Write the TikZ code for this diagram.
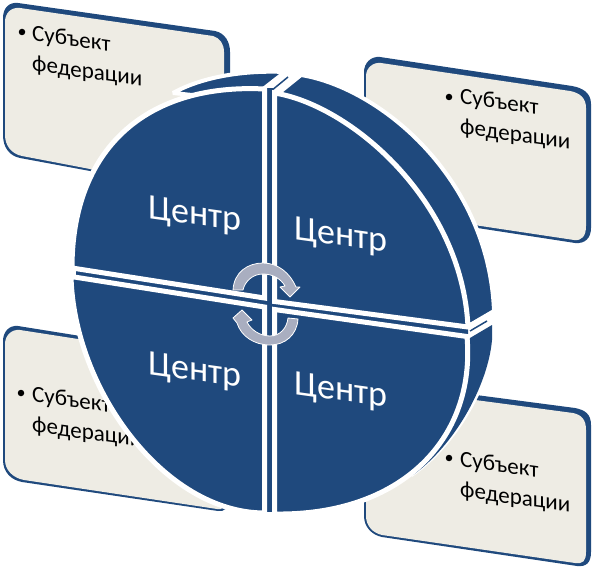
\documentclass[tikz,border=0pt]{standalone}
\usepackage{fontspec}
\setmainfont{Carlito}
\definecolor{navy}{HTML}{1F497D}
\definecolor{beige}{HTML}{EEECE4}
\definecolor{arrowgrey}{HTML}{A9AEC0}
\tikzset{
  x=1pt,y=-1pt,
  panel/.style={fill=beige},
  edgeband/.style={fill=navy},
  sector/.style={fill=navy,draw=white,line width=5pt,line join=miter,miter limit=2},
  wedgepart/.style={fill=navy,draw=white,line width=4pt,line join=miter,miter limit=2},
  sliver/.style={draw=navy,line width=1.5pt},
  centre/.style={text=white,font=\fontsize{36}{42}\selectfont,inner sep=0pt,yslant=-.14,transform shape},
  subj/.style={text=black,font=\fontsize{23}{30}\selectfont,inner sep=0pt,align=left,anchor=north west,yslant=-.135,transform shape},
  dot/.style={circle,fill=black,inner sep=0pt,minimum size=6.5pt},
  turn/.style={fill=arrowgrey,draw=white,line width=.8pt,line join=round}
}
\begin{document}
\begin{tikzpicture}
\useasboundingbox (0,0) rectangle (594,569);
% panel TL
\fill[edgeband] (18,3) -- (215,31) .. controls (225,33) and (230,42) .. (230,52) -- (230,210) -- (90,171) -- (20,158) .. controls (10,156) and (3,148) .. (3,135) -- (3,18) .. controls (3,8) and (9,2) .. (18,3) -- cycle;
\fill[panel] (20,8) -- (213,36) .. controls (220,38) and (224,44) .. (224,52) -- (224,210) -- (90,169) -- (22,156) .. controls (12,154) and (5,146) .. (5,135) -- (5,22) .. controls (5,13) and (11,7) .. (20,8) -- cycle;
% panel TR
\fill[edgeband] (380,57) -- (572,86) .. controls (583,88) and (591,93) .. (591,104) -- (591,228) .. controls (591,238) and (585,244) .. (575,243) -- (380,213) .. controls (372,211) and (364,203) .. (364,193) -- (364,72) .. controls (364,63) and (371,56) .. (380,57) -- cycle;
\fill[panel] (381,63) -- (570,91) .. controls (580,93) and (586,98) .. (586,108) -- (586,226) .. controls (586,236) and (582,241) .. (574,240) -- (381,211) .. controls (373,209) and (366,202) .. (366,193) -- (366,76) .. controls (366,68) and (373,62) .. (381,63) -- cycle;
% panel BL
\fill[edgeband] (18,326) -- (230,360) -- (229,500) .. controls (229,508) and (224,512) .. (218,511) -- (22,482) .. controls (11,480) and (3,472) .. (3,460) -- (3,341) .. controls (3,332) and (9,325) .. (18,326) -- cycle;
\fill[panel] (20,330) -- (226,362) -- (226,500) .. controls (226,507) and (222,510) .. (217,509) -- (24,480) .. controls (13,478) and (5,470) .. (5,460) -- (5,344) .. controls (5,336) and (11,329) .. (20,330) -- cycle;
% panel BR
\fill[edgeband] (400,385) -- (575,408) .. controls (585,410) and (591,414) .. (591,425) -- (591,552) .. controls (591,563) and (586,567) .. (577,566) -- (382,537) .. controls (372,535) and (364,527) .. (364,516) -- (364,480) -- cycle;
\fill[panel] (400,390) -- (573,413) .. controls (582,415) and (586,420) .. (586,430) -- (586,552) .. controls (586,561) and (583,564) .. (575,563) -- (382,535) .. controls (373,533) and (366,526) .. (366,516) -- (366,480) -- cycle;
% panel texts
\node[dot] (d1) at (22,32) {};
\node[subj] (s1) at (32,25) {Субъект\\федерации};
\node[dot] (d2) at (449,97) {};
\node[subj] (s2) at (460,88) {Субъект\\федерации};
\node[dot] (d3) at (21,393) {};
\node[subj] (s3) at (32,386) {Субъект\\федерации};
\node[dot] (d4) at (449,458) {};
\node[subj] (s4) at (460,451) {Субъект\\федерации};
% extrusion
\path[wedgepart] (173,93) .. controls (200,78) and (240,70) .. (285,72) -- (262,90) -- (240,100) -- cycle;
\path[wedgepart] (301,75) .. controls (381,88) and (489,179) .. (494,311) -- (470,325) -- (300,120) -- (275,96) -- cycle;
\fill[white] (467,340) -- (494,323) -- (494,345) .. controls (490,387) and (456,447) .. (412,477) -- cycle;
\fill[navy] (470,338) -- (492,325) -- (492,340) .. controls (488,385) and (455,445) .. (413,475) -- cycle;
\draw[sliver] (271,91) -- (288,77);
\draw[sliver] (470,331) -- (487,321);
\fill[navy] (262,290) -- (468,320) -- (468,338) -- (262,312) -- cycle;
\fill[navy] (76,268) -- (262,296) -- (262,312) -- (76,280) -- cycle;
\fill[navy] (266,88) rectangle (273,512);
% sectors
\node[coordinate] (tlc) at (264.5,298) {};
\node[coordinate] (trc) at (274.5,301.5) {};
\node[coordinate] (blc) at (264.5,307) {};
\node[coordinate] (brc) at (274.5,309.5) {};
\path[sector] (tlc) -- (72,268) .. controls (72,150) and (145,83) .. (264.5,89) -- cycle;
\path[sector] (trc) -- (274.5,93) .. controls (350,105) and (462,200) .. (468,327) -- cycle;
\path[sector] (blc) -- (71,276.5) .. controls (74,390) and (165,513) .. (264.5,513) -- cycle;
\path[sector] (brc) -- (467,336.5) .. controls (476,440) and (400,516) .. (274.5,514) -- cycle;
% circular arrows
\path[turn] (233,290) .. controls (234,272) and (248,263) .. (263,263) .. controls (278,263) and (290,273) .. (296,287) -- (300,287) -- (290,297) -- (280,287) -- (285,286) .. controls (281,279) and (273,274) .. (263,274) .. controls (253,274) and (245,281) .. (243,290) -- cycle;
\path[turn] (298,319) .. controls (297,335) and (285,345) .. (270,345) .. controls (254,345) and (241,336) .. (237,323) -- (233,318) -- (242,310) -- (252,320) -- (247,322) .. controls (251,330) and (260,336) .. (270,336) .. controls (280,336) and (287,328) .. (288,318) -- cycle;
% labels
\node[centre] (c1) at (195,216) {Центр};
\node[centre] (c2) at (341,237) {Центр};
\node[centre] (c3) at (195,372) {Центр};
\node[centre] (c4) at (341,392) {Центр};
\end{tikzpicture}
\end{document}
